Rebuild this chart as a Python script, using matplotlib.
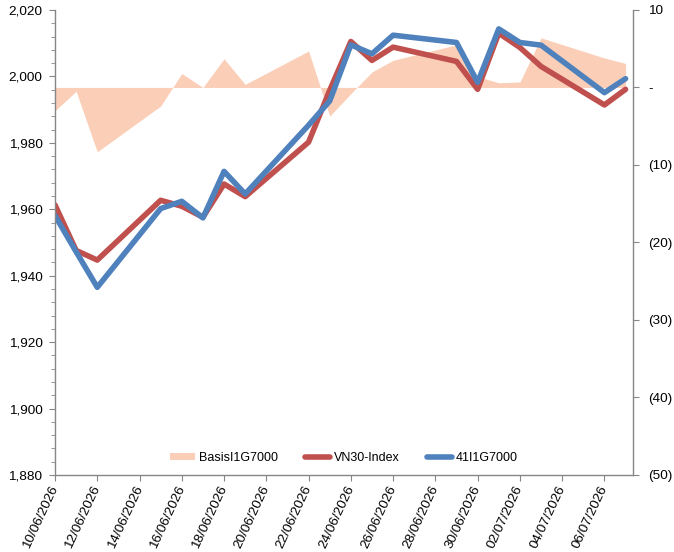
import matplotlib
matplotlib.use("Agg")
import matplotlib.pyplot as plt
import matplotlib.dates as mdates
import matplotlib.ticker as mticker
from matplotlib.patches import Patch
from matplotlib.lines import Line2D
import pandas as pd

plt.rcParams["font.family"] = ["Liberation Sans", "DejaVu Sans"]

# trading days shown on the chart
dates = pd.to_datetime([
    "2026-06-10", "2026-06-11", "2026-06-12", "2026-06-15", "2026-06-16",
    "2026-06-17", "2026-06-18", "2026-06-19", "2026-06-22", "2026-06-23",
    "2026-06-24", "2026-06-25", "2026-06-26", "2026-06-29", "2026-06-30",
    "2026-07-01", "2026-07-02", "2026-07-03", "2026-07-06", "2026-07-07",
])
vn30 = [1961.3, 1947.6, 1944.7, 1962.7, 1960.9, 1957.6, 1967.6, 1963.8,
        1980.2, 1995.8, 2010.5, 2004.8, 2008.8, 2004.5, 1996.1, 2013.0,
        2008.7, 2003.0, 1991.4, 1996.1]
futures = [1958.1, 1947.2, 1936.5, 1960.2, 1962.4, 1957.4, 1971.4, 1964.6,
           1985.3, 1992.6, 2009.5, 2006.8, 2012.4, 2010.2, 1998.2, 2014.3,
           2010.2, 2009.4, 1995.1, 1999.3]
basis = [-3.0, -0.5, -8.3, -2.4, 1.8, 0.0, 3.7, 0.4, 4.7, -3.7,
         -0.8, 2.0, 3.5, 5.5, 1.4, 0.6, 0.7, 6.4, 3.8, 3.1]

labels = ["BasisI1G7000", "VN30-Index", "41I1G7000"]
tick_dates = pd.date_range("2026-06-10", "2026-07-06", freq="2D")

C_BASIS = "#FBCEB7"
C_RED = "#C0504D"
C_BLUE = "#4F81BD"
C_AX = "#868686"
FS = 9.7

fig = plt.figure(figsize=(6.74, 5.52), dpi=100)
ax = fig.add_axes([0.0816, 0.1395, 0.8575, 0.8425])
ax2 = ax.twinx()

# basis area on the right axis, kept behind the lines
ax2.fill_between(dates, 0, basis, color=C_BASIS, linewidth=0)
ax.set_zorder(ax2.get_zorder() + 1)
ax.patch.set_visible(False)

ax.plot(dates, vn30, color=C_RED, lw=4, solid_joinstyle="round",
        solid_capstyle="round")
ax.plot(dates, futures, color=C_BLUE, lw=4, solid_joinstyle="round",
        solid_capstyle="round")

ax.set_xlim(pd.Timestamp("2026-06-10"),
            pd.Timestamp("2026-06-10") + pd.Timedelta(days=27.35))
ax.set_ylim(1880, 2020)
ax2.set_ylim(-50, 10)

ax.yaxis.set_major_locator(mticker.MultipleLocator(20))
ax.yaxis.set_minor_locator(mticker.MultipleLocator(4))
ax.yaxis.set_major_formatter(mticker.FuncFormatter(lambda v, p: f"{v:,.0f}"))


def paren(v, p):
    if abs(v) < 1e-9:
        return "-"
    if v < 0:
        return f"({-v:.0f})"
    return f"{v:.0f}"


ax2.yaxis.set_major_locator(mticker.MultipleLocator(10))
ax2.yaxis.set_major_formatter(mticker.FuncFormatter(paren))

ax.set_xticks(tick_dates)
ax.xaxis.set_major_formatter(mdates.DateFormatter("%d/%m/%Y"))
ax.xaxis.set_minor_locator(mticker.NullLocator())
for t in ax.get_xticklabels():
    t.set_rotation(65)
    t.set_ha("right")
    t.set_va("center")
    t.set_rotation_mode("anchor")

for a in (ax, ax2):
    a.spines["top"].set_visible(False)
    for s in ("left", "right", "bottom"):
        a.spines[s].set_color(C_AX)
        a.spines[s].set_linewidth(1.0)
ax.spines["right"].set_visible(False)
ax2.spines["left"].set_visible(False)
ax2.spines["bottom"].set_visible(False)

ax.tick_params(axis="y", which="major", length=4, color=C_AX, labelsize=FS,
               pad=5)
ax.tick_params(axis="y", which="minor", length=3, color=C_AX)
ax.tick_params(axis="x", which="major", length=4, color=C_AX, labelsize=FS,
               pad=4)
ax2.tick_params(axis="y", which="major", length=4, color=C_AX, labelsize=FS,
                pad=7)

handles = [
    Patch(facecolor=C_BASIS, edgecolor="none"),
    Line2D([], [], color=C_RED, lw=4, solid_capstyle="round"),
    Line2D([], [], color=C_BLUE, lw=4, solid_capstyle="round"),
]
ax.legend(handles, labels, loc="center", bbox_to_anchor=(0.5, 0.036),
          ncol=3, frameon=False, fontsize=9, handlelength=2.0,
          handleheight=0.5, handletextpad=0.3, columnspacing=2.2)

fig.savefig("out.png", dpi=100)
